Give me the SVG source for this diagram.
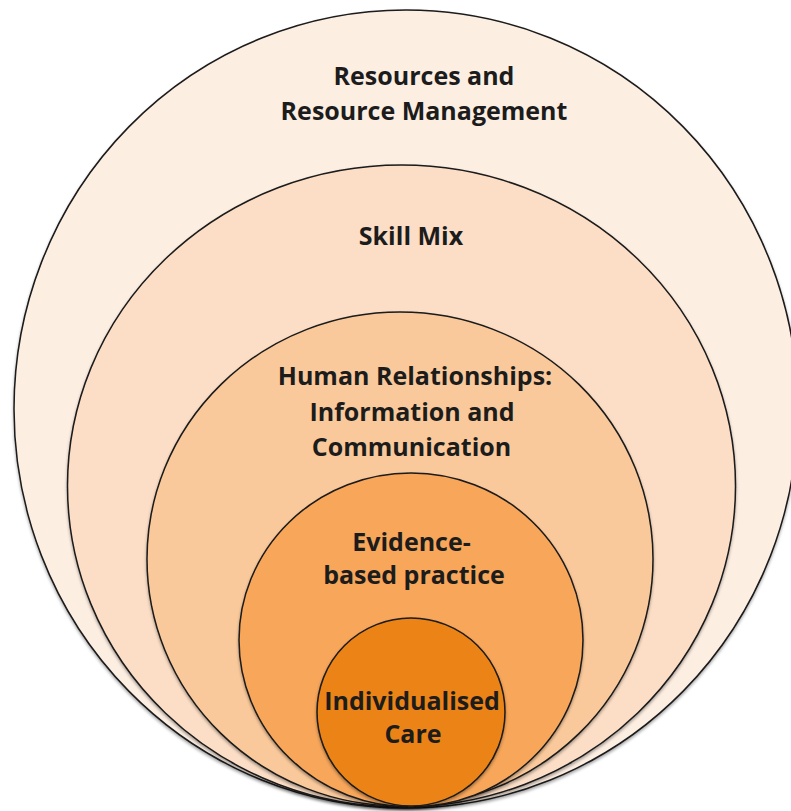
<svg xmlns="http://www.w3.org/2000/svg" width="791" height="811" viewBox="0 0 791 811">
  <defs>
    <filter id="sh" x="-5%" y="-5%" width="110%" height="110%">
      <feDropShadow dx="0" dy="2" stdDeviation="1.5" flood-color="#000" flood-opacity="0.35"/>
    </filter>
  </defs>
  <style>
    .ring { stroke: #1a1a1a; stroke-width: 1.5; }
    .lbl { font-family: "Open Sans", "Liberation Sans", sans-serif; font-weight: 700; font-size: 25px; fill: #1c1c1c; text-anchor: middle; }
  </style>
  <rect x="0" y="0" width="791" height="811" fill="#ffffff"/>
  <g id="resources">
    <ellipse class="ring" cx="406" cy="409" rx="392" ry="399" fill="#FDEEE2" filter="url(#sh)"/>
    <text class="lbl" x="424" y="85">Resources and</text>
    <text class="lbl" x="424" y="120">Resource Management</text>
  </g>
  <g id="skill-mix">
    <ellipse class="ring" cx="401.5" cy="486" rx="334" ry="321" fill="#FCDEC6" filter="url(#sh)"/>
    <text class="lbl" x="411" y="245">Skill Mix</text>
  </g>
  <g id="human-relationships">
    <ellipse class="ring" cx="400" cy="559" rx="253" ry="247" fill="#FAC99B" filter="url(#sh)"/>
    <text class="lbl" x="415" y="385">Human Relationships:</text>
    <text class="lbl" x="412" y="421">Information and</text>
    <text class="lbl" x="411.5" y="456">Communication</text>
  </g>
  <g id="evidence">
    <ellipse class="ring" cx="411" cy="640" rx="172" ry="167" fill="#F7A65A" filter="url(#sh)"/>
    <text class="lbl" x="411.5" y="551">Evidence-</text>
    <text class="lbl" x="414" y="584">based practice</text>
  </g>
  <g id="individualised-care">
    <circle class="ring" cx="411" cy="712" r="94" fill="#EC8318" filter="url(#sh)"/>
    <text class="lbl" x="412" y="710">Individualised</text>
    <text class="lbl" x="413" y="743">Care</text>
  </g>
  <g id="connectors"></g>
</svg>
